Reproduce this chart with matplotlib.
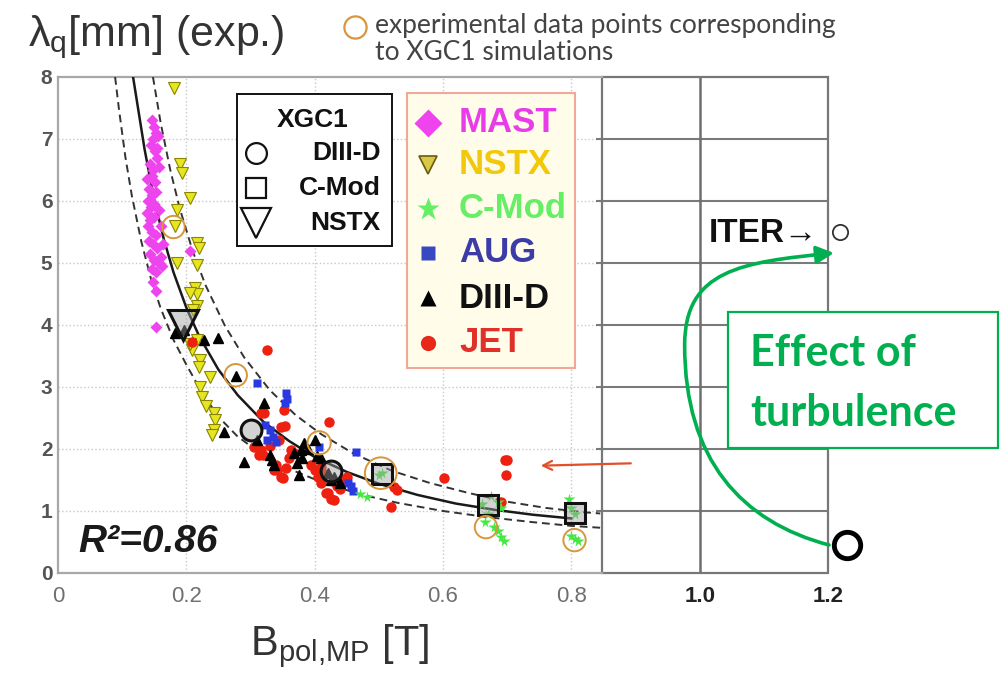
import matplotlib.pyplot as plt
from matplotlib.lines import Line2D
from matplotlib.patches import Rectangle, FancyArrowPatch
from matplotlib.path import Path

W, H = 1001, 673

# scaling fit and its error band: B_pol,MP [T] vs lambda_q [mm]
fit_b = [0.117, 0.125, 0.135, 0.15, 0.165, 0.18, 0.20, 0.22, 0.25, 0.28,
         0.32, 0.36, 0.40, 0.45, 0.50, 0.56, 0.62, 0.68, 0.74, 0.80]
fit_lq = [8.0, 7.48, 6.83, 6.02, 5.38, 4.85, 4.28, 3.82, 3.28, 2.87,
          2.44, 2.13, 1.87, 1.63, 1.44, 1.26, 1.12, 1.02, 0.94, 0.88]
upper_b = [0.148, 0.16, 0.175, 0.19, 0.21, 0.23, 0.26, 0.29, 0.33, 0.37,
           0.41, 0.46, 0.52, 0.58, 0.64, 0.70, 0.76, 0.82, 0.845]
upper_lq = [8.0, 7.26, 6.50, 5.87, 5.19, 4.64, 3.99, 3.48, 2.95, 2.55,
            2.24, 1.93, 1.65, 1.45, 1.29, 1.15, 1.05, 0.98, 0.96]
lower_b = [0.089, 0.095, 0.105, 0.115, 0.13, 0.145, 0.16, 0.18, 0.20, 0.225,
           0.25, 0.28, 0.32, 0.36, 0.41, 0.47, 0.53, 0.60, 0.67, 0.74, 0.80, 0.845]
lower_lq = [8.0, 7.48, 6.71, 6.09, 5.34, 4.74, 4.27, 3.76, 3.36, 2.90,
            2.52, 2.20, 1.90, 1.68, 1.47, 1.27, 1.13, 1.0, 0.9, 0.82, 0.76, 0.73]

# experimental data per machine
mast_b = [0.147, 0.150, 0.153, 0.148, 0.156, 0.145, 0.151, 0.154, 0.143, 0.148,
          0.157, 0.146, 0.151, 0.142, 0.147, 0.153, 0.140, 0.145, 0.150, 0.138,
          0.143, 0.149, 0.140, 0.146, 0.152, 0.142, 0.148, 0.155, 0.144, 0.150,
          0.158, 0.146, 0.153, 0.148, 0.152, 0.160, 0.164, 0.206, 0.152, 0.160,
          0.157, 0.162, 0.139, 0.155]
mast_lq = [7.3, 7.2, 7.1, 7.0, 7.05, 6.9, 6.8, 6.7, 6.6, 6.5,
           6.55, 6.4, 6.3, 6.2, 6.1, 6.15, 6.0, 5.9, 5.95, 5.8,
           5.7, 5.75, 5.6, 5.5, 5.45, 5.35, 5.3, 5.25, 5.15, 5.05,
           5.0, 4.9, 4.85, 4.7, 4.55, 5.1, 5.3, 5.2, 3.97, 5.6,
           5.85, 4.95, 6.35, 6.85]

nstx_b = [0.180, 0.190, 0.193, 0.206, 0.185, 0.183, 0.217, 0.220, 0.185, 0.217,
          0.214, 0.217, 0.206, 0.217, 0.211, 0.217, 0.209, 0.222, 0.237, 0.222,
          0.225, 0.243, 0.245, 0.243, 0.240, 0.219, 0.205, 0.230]
nstx_lq = [7.82, 6.6, 6.45, 6.05, 5.85, 5.6, 5.32, 5.25, 5.0, 4.97,
           4.6, 4.5, 4.52, 4.3, 4.24, 3.76, 3.6, 3.44, 3.16, 3.0,
           2.84, 2.58, 2.47, 2.31, 2.23, 3.33, 3.7, 2.7]

cmod_b = [0.482, 0.500, 0.505, 0.660, 0.675, 0.685, 0.690, 0.670, 0.665, 0.680,
          0.685, 0.690, 0.695, 0.797, 0.800, 0.805, 0.800, 0.805, 0.810, 0.470]
cmod_lq = [1.23, 1.58, 1.62, 1.12, 1.25, 1.15, 1.05, 0.95, 0.82, 0.75,
           0.68, 0.58, 0.52, 1.20, 1.05, 0.95, 0.60, 0.55, 0.52, 1.28]

aug_b = [0.310, 0.355, 0.357, 0.353, 0.322, 0.330, 0.335, 0.340, 0.326, 0.407,
         0.465, 0.457, 0.460, 0.452]
aug_lq = [3.06, 2.90, 2.80, 2.75, 2.38, 2.30, 2.20, 2.12, 2.15, 2.03,
          1.95, 1.40, 1.33, 1.45]

d3d_b = [0.196, 0.183, 0.227, 0.250, 0.277, 0.321, 0.258, 0.290, 0.334, 0.336,
         0.330, 0.310, 0.378, 0.380, 0.375, 0.390, 0.400, 0.410, 0.430, 0.440,
         0.368, 0.383, 0.373, 0.404, 0.425, 0.420]
d3d_lq = [3.92, 3.87, 3.76, 3.79, 3.17, 2.74, 2.28, 1.79, 1.82, 1.75,
          1.90, 2.14, 1.98, 1.85, 1.58, 2.00, 2.14, 1.86, 1.55, 1.45,
          1.93, 2.10, 1.77, 1.88, 1.50, 1.62]

jet_b = [0.209, 0.326, 0.352, 0.321, 0.316, 0.347, 0.354, 0.363, 0.316, 0.313,
         0.320, 0.336, 0.347, 0.350, 0.340, 0.355, 0.422, 0.400, 0.410, 0.420,
         0.430, 0.440, 0.305, 0.342, 0.368, 0.410, 0.417, 0.425, 0.451, 0.524,
         0.519, 0.529, 0.602, 0.696, 0.700, 0.698, 0.690, 0.445, 0.435, 0.330,
         0.345, 0.360, 0.395, 0.405, 0.415]
jet_lq = [3.73, 3.60, 2.63, 2.58, 2.58, 2.36, 2.37, 1.98, 1.98, 1.90,
          1.90, 1.66, 1.55, 1.53, 1.75, 1.70, 2.44, 1.66, 1.45, 1.29,
          1.18, 1.35, 2.03, 1.66, 1.93, 1.71, 1.29, 1.20, 1.55, 1.39,
          1.07, 1.34, 1.53, 1.82, 1.82, 1.58, 1.15, 1.50, 1.40, 2.05,
          2.15, 1.85, 1.75, 1.55, 1.60]

# XGC1 simulation results
xgc_d3d_b = [0.300, 0.425]
xgc_d3d_lq = [2.30, 1.65]
xgc_cmod_b = [0.505, 0.670, 0.805]
xgc_cmod_lq = [1.60, 1.10, 0.96]
xgc_nstx_b = [0.195]
xgc_nstx_lq = [4.00]

# experimental points matched to the XGC1 runs
match_b = [0.180, 0.277, 0.407, 0.503, 0.667, 0.805]
match_lq = [5.58, 3.19, 2.10, 1.61, 0.74, 0.53]

# ITER predictions
iter_b = [1.219]
iter_lq = [5.50]
iter_turb_b = [1.230]
iter_turb_lq = [0.45]

xticks = [0, 0.2, 0.4, 0.6, 0.8, 1.0, 1.2]
xticklabels = ['0', '0.2', '0.4', '0.6', '0.8', '1.0', '1.2']
yticks = [0, 1, 2, 3, 4, 5, 6, 7, 8]

machines = ['MAST', 'NSTX', 'C-Mod', 'AUG', 'DIII-D', 'JET']
machine_colors = ['#E83CE8', '#F2C80C', '#66EE66', '#3C3CA8', '#111111', '#E0302A']

SANS = ['Liberation Sans', 'DejaVu Sans']
plt.rcParams['font.family'] = SANS


def fx(x):
    return x / W


def fy(y):
    return 1 - y / H


fig = plt.figure(figsize=(W / 100, H / 100), dpi=100)
ax = fig.add_axes([fx(58), fy(573), (828 - 58) / W, (573 - 77) / H])
ax.set_xlim(0, 1.2)
ax.set_ylim(0, 8)
for s in ax.spines.values():
    s.set_visible(False)

edge = 0.848  # where the extension panel begins

# original plot: light dotted grid and frame
ax.vlines(xticks[1:5], 0, 8, colors='#C8C8C8', linestyles=':', lw=1.0, zorder=0)
ax.hlines(yticks[1:-1], 0, edge, colors='#C8C8C8', linestyles=':', lw=1.0, zorder=0)
ax.plot([0, 0], [0, 8], color='#A8A8A8', lw=1.6, clip_on=False)
ax.plot([0, edge], [0, 0], color='#A8A8A8', lw=1.6, clip_on=False)
ax.plot([0, edge], [8, 8], color='#A8A8A8', lw=1.6, clip_on=False)

# extension panel out to ITER field
ax.hlines(yticks[1:-1], edge - 0.01, 1.2, colors='#7A7A7A', lw=1.5, zorder=0)
ax.vlines([1.0], 0, 8, colors='#6E6E6E', lw=1.8, zorder=0)
ax.add_patch(Rectangle((edge, 0), 1.2 - edge, 8, fill=False, ec='#777777',
                       lw=1.6, clip_on=False, zorder=1))

# fit curves
ax.plot(fit_b, fit_lq, color='#1A1A1A', lw=1.8, zorder=3)
ax.plot(upper_b, upper_lq, color='#333333', lw=1.4, ls=(0, (4, 2.5)), zorder=3)
ax.plot(lower_b, lower_lq, color='#333333', lw=1.4, ls=(0, (4, 2.5)), zorder=3)

# experimental data
ax.plot(mast_b, mast_lq, ls='none', marker='D', ms=6, color='#EE44EE', mec='none', zorder=4)
ax.plot(nstx_b, nstx_lq, ls='none', marker='v', ms=8.5, mfc='#E6E620', mec='#8A8400',
        mew=0.8, zorder=4)
ax.plot(jet_b, jet_lq, ls='none', marker='o', ms=7.5, color='#EE2010', mec='none', zorder=4)
ax.plot(aug_b, aug_lq, ls='none', marker='s', ms=6, color='#2A3AE0', mec='none', zorder=4)
ax.plot(d3d_b, d3d_lq, ls='none', marker='^', ms=7.5, color='#000000', zorder=4)
ax.plot(cmod_b, cmod_lq, ls='none', marker='*', ms=8.5, color='#44E844', mec='none', zorder=4)

# XGC1 simulations
sim_style = dict(ls='none', mfc=(0.62, 0.62, 0.62, 0.45), mec='#111111', mew=2.2, zorder=6)
ax.plot(xgc_d3d_b, xgc_d3d_lq, marker='o', ms=15, **sim_style)
ax.plot(xgc_cmod_b, xgc_cmod_lq, marker='s', ms=15, **sim_style)
ax.plot(xgc_nstx_b, xgc_nstx_lq, marker='v', ms=21, **sim_style)
ax.scatter(match_b, match_lq, s=[260, 260, 280, 520, 260, 260], facecolors='none',
           edgecolors='#D8963C', linewidths=1.4, zorder=7)

# ITER
ax.plot(iter_b, iter_lq, ls='none', marker='o', ms=11, mfc='white', mec='#333333',
        mew=1.3, clip_on=False, zorder=8)
ax.plot(iter_turb_b, iter_turb_lq, ls='none', marker='o', ms=19, mfc='white',
        mec='#000000', mew=3.5, clip_on=False, zorder=8)

# red arrow pointing at the high JET points
ax.annotate('', xy=(0.748, 1.73), xytext=(0.897, 1.77),
            arrowprops=dict(arrowstyle='->', color='#E0502A', lw=1.6,
                            mutation_scale=16), zorder=5)

# turbulence arrow from the lower ITER point up to the upper one
verts = [(1.2016, 0.452), (1.0656, 0.823), (0.9766, 1.823), (0.9766, 3.677),
         (0.9766, 4.887), (1.0656, 5.016), (1.2094, 5.161)]
codes = [Path.MOVETO] + [Path.CURVE4] * 6
ax.add_patch(FancyArrowPatch(path=Path(verts, codes), arrowstyle='-|>',
                             mutation_scale=26, color='#00B050', lw=2.6,
                             clip_on=False, zorder=7))

# ticks
ax.set_xticks(xticks)
ax.set_xticklabels(xticklabels)
ax.set_yticks(yticks)
ax.tick_params(axis='both', length=0)
ax.tick_params(axis='x', pad=9, labelsize=16, labelcolor='#707070')
ax.tick_params(axis='y', pad=4, labelsize=15, labelcolor='#555555')
for t in ax.get_yticklabels():
    t.set_fontweight('bold')
for t in ax.get_xticklabels()[-2:]:
    t.set_fontweight('bold')
    t.set_color('#222222')

# axis titles
fig.text(fx(28), fy(46), r'λ$_\mathregular{q}$[mm] (exp.)', fontsize=31,
         color='#333333', va='baseline')
fig.text(fx(250), fy(655), r'B$_\mathregular{pol{,}MP}$ [T]', fontsize=30,
         color='#333333', va='baseline')
fig.text(fx(78), fy(552), 'R²=0.86', fontsize=28, weight='bold', style='italic',
         color='#1A1A1A', va='baseline')

# note on the orange circles
fig.add_artist(Line2D([fx(355)], [fy(27)], transform=fig.transFigure, marker='o',
                      ms=16, mfc='none', mec='#D8963C', mew=1.6))
fig.text(fx(375), fy(33), 'experimental data points corresponding', fontsize=19,
         family='Lato', color='#444444', va='baseline')
fig.text(fx(375), fy(60), 'to XGC1 simulations', fontsize=19,
         family='Lato', color='#444444', va='baseline')

# XGC1 key
fig.add_artist(Rectangle((fx(237), fy(246)), (392 - 237) / W, (246 - 94) / H,
                         transform=fig.transFigure, fc='white', ec='#111111',
                         lw=1.4, zorder=9))
fig.text(fx(313), fy(120), 'XGC1', fontsize=19, weight='bold', ha='center',
         va='center', color='#111111', zorder=10)
for name, mk, ms, yy in zip(['DIII-D', 'C-Mod', 'NSTX'], ['o', 's', 'v'],
                            [15, 15, 21], [153, 188, 223]):
    fig.add_artist(Line2D([fx(256)], [fy(yy)], transform=fig.transFigure, marker=mk,
                          ms=ms, mfc='white', mec='#111111', mew=1.6, zorder=10))
    fig.text(fx(381), fy(yy), name, fontsize=19, weight='bold', ha='right',
             va='center', color='#111111', zorder=10)

# machine key
fig.add_artist(Rectangle((fx(407), fy(368)), (575 - 407) / W, (368 - 93) / H,
                         transform=fig.transFigure, fc='#FFFDEA', ec='#F2A898',
                         lw=1.5, zorder=9))
key_marks = [dict(marker='D', ms=14, mfc='#EE44EE', mec='none'),
             dict(marker='v', ms=13, mfc='#D8C848', mec='#6A5A10', mew=1.2),
             dict(marker='*', ms=17, mfc='#66EE66', mec='none'),
             dict(marker='s', ms=10, mfc='#3848C0', mec='none'),
             dict(marker='^', ms=12, mfc='#000000', mec='none'),
             dict(marker='o', ms=11, mfc='#E82818', mec='none')]
for name, col, mk, yy in zip(machines, machine_colors, key_marks,
                             [123, 165, 209, 253, 298, 343]):
    fig.add_artist(Line2D([fx(428)], [fy(yy)], transform=fig.transFigure, zorder=10, **mk))
    fig.text(fx(459), fy(yy), name, fontsize=25, weight='bold', va='center',
             color=col, zorder=10)

# ITER labels
fig.text(fx(818), fy(233), 'ITER→', fontsize=24, weight='bold', ha='right',
         va='center', color='#111111')
fig.add_artist(Rectangle((fx(728), fy(448)), (998 - 728) / W, (448 - 312) / H,
                         transform=fig.transFigure, fc='white', ec='#00B050',
                         lw=1.6, zorder=9))
fig.text(fx(750), fy(366), 'Effect of', fontsize=31, weight='bold', family='Lato',
         color='#00B050', va='baseline', zorder=10)
fig.text(fx(750), fy(426), 'turbulence', fontsize=31, weight='bold', family='Lato',
         color='#00B050', va='baseline', zorder=10)

fig.savefig('out.png', dpi=100)
